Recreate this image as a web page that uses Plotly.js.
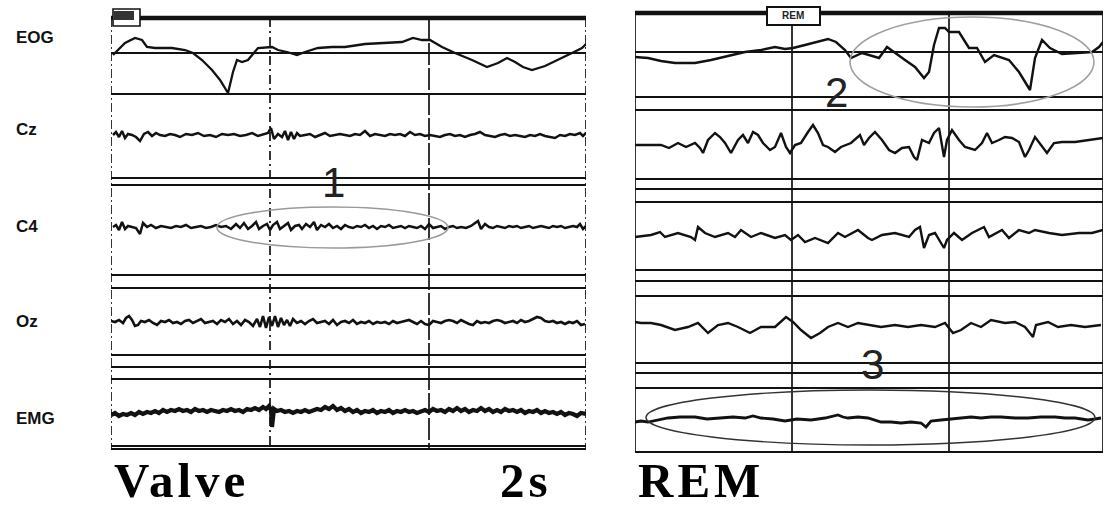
<!DOCTYPE html>
<html>
<head>
<meta charset="utf-8">
<script src="https://cdn.plot.ly/plotly-3.0.1.min.js"></script>
<style>html,body{margin:0;padding:0;background:#fff;}#chart{width:1109px;height:510px;}</style>
</head>
<body>
<div id="chart"></div>
<script>
// ---- DATA (x = sample index at ~79 Hz, value = deflection, arbitrary units, up = positive) ----
const channels = ["EOG", "Cz", "C4", "Oz", "EMG"];
const panelTitles = ["Valve", "REM"];
const scaleLabel = "2s";
const markers = ["1", "2", "3"];

// Valve panel
const valveEOG = [[2,-2],[7,3],[14,10],[24,15],[31,13],[36,6],[44,5],[61,5],[74,3],[82,0],[91,-7],[101,-17],[109,-27],[117,-40],[122,-19],[126,-7],[131,-9],[137,-7],[141,-2],[147,5],[161,6],[167,3],[176,1],[186,-2],[194,1],[207,5],[221,6],[234,6],[254,9],[274,10],[291,11],[302,15],[311,13],[319,13],[331,6],[344,0],[361,-7],[376,-14],[387,-10],[396,-5],[404,-9],[412,-14],[421,-17],[434,-13],[447,-7],[461,0],[471,5],[475,9]];
const valveCz = [[2,0],[5,3],[8,-2],[11,4],[14,-3],[17,1],[21,0],[25,-2],[29,-6],[33,1],[37,3],[41,-1],[45,2],[49,0],[54,-1],[59,1],[64,0],[69,-2],[75,1],[81,0],[87,2],[93,-1],[99,0],[105,-2],[111,1],[117,0],[123,1],[129,-1],[135,0],[141,2],[147,-1],[153,1],[157,2],[160,7],[163,-4],[167,1],[171,-2],[174,4],[177,-5],[180,3],[183,-4],[186,2],[189,-1],[194,0],[199,1],[204,-2],[209,0],[214,2],[219,-1],[224,0],[229,1],[234,0],[239,-1],[244,1],[249,0],[254,4],[259,-1],[264,1],[269,0],[274,-1],[279,1],[284,0],[289,1],[294,-1],[299,3],[304,0],[309,1],[314,-1],[319,0],[324,-1],[329,-2],[334,0],[339,1],[344,-1],[349,0],[354,-2],[359,0],[364,1],[369,3],[374,0],[379,-1],[384,-2],[389,0],[394,1],[399,-1],[404,0],[409,-1],[414,-2],[419,0],[424,-1],[429,1],[434,-1],[439,-2],[444,-3],[449,0],[454,-1],[459,1],[464,0],[469,2],[472,-1],[475,2]];
const valveC4 = [[2,0],[5,2],[8,-3],[11,5],[14,-2],[17,1],[21,0],[25,-1],[29,-7],[32,4],[36,0],[40,2],[45,-1],[50,1],[55,0],[60,-1],[65,1],[70,0],[75,2],[80,-1],[85,0],[90,1],[95,-1],[100,0],[105,2],[110,0],[115,1],[120,-2],[125,3],[129,-1],[133,4],[137,-2],[141,1],[145,5],[148,-2],[152,1],[156,3],[159,-3],[162,2],[166,5],[169,-2],[173,1],[177,4],[180,-3],[184,1],[188,2],[191,-2],[195,3],[199,0],[203,5],[206,-3],[210,2],[214,0],[218,3],[222,-1],[226,1],[230,-2],[234,2],[238,0],[242,-1],[246,1],[250,0],[254,2],[258,-1],[262,1],[266,-2],[270,1],[274,0],[278,2],[282,-1],[286,0],[290,1],[294,-1],[298,1],[302,0],[306,-1],[310,1],[314,-2],[318,3],[322,-1],[326,0],[330,1],[334,-2],[338,0],[342,1],[346,-1],[350,0],[355,-1],[360,1],[364,4],[367,6],[370,-2],[374,3],[378,0],[382,-1],[386,1],[390,0],[394,-1],[398,1],[402,0],[406,1],[410,-1],[414,0],[418,1],[422,-1],[426,0],[430,1],[434,0],[438,-1],[442,1],[446,0],[450,1],[454,-1],[458,0],[462,1],[466,0],[469,3],[472,-2],[475,1]];
const valveOz = [[0,1],[4,0],[8,2],[12,-1],[15,4],[18,6],[21,2],[24,-4],[27,-3],[30,1],[34,0],[38,2],[42,-1],[46,-3],[50,1],[54,0],[58,2],[62,-1],[66,0],[70,-2],[74,1],[78,2],[82,-1],[86,1],[90,3],[94,-1],[98,0],[102,1],[106,-2],[110,2],[114,0],[118,3],[122,-2],[126,1],[130,-3],[134,2],[138,0],[142,-4],[146,3],[149,-5],[152,6],[155,-6],[158,5],[161,-4],[164,6],[167,-5],[170,4],[173,-3],[176,2],[179,-4],[182,3],[186,-1],[190,1],[194,-2],[198,1],[202,3],[206,-1],[210,0],[214,1],[218,-2],[222,2],[226,-3],[230,0],[234,1],[238,-1],[242,2],[246,-2],[250,0],[254,-1],[258,1],[262,-2],[266,0],[270,-1],[274,0],[278,-2],[282,1],[286,-1],[290,0],[294,1],[298,2],[302,0],[306,-2],[310,1],[314,-2],[318,-3],[322,1],[326,0],[330,-1],[334,1],[338,2],[342,1],[346,-1],[350,2],[354,0],[358,-2],[362,-3],[366,1],[370,-1],[374,0],[378,-1],[382,1],[386,2],[390,1],[394,-1],[398,0],[402,1],[406,-1],[410,2],[414,0],[418,1],[422,3],[426,5],[430,4],[434,1],[438,0],[442,1],[446,-1],[450,0],[454,-2],[458,0],[462,-1],[466,1],[470,-3],[474,-2]];
const valveEMG = [[0,-3],[4,-1],[8,-4],[12,-2],[16,-3],[20,-1],[24,-3],[28,0],[32,-2],[36,0],[40,-1],[44,1],[48,-1],[52,2],[56,0],[60,2],[64,1],[68,3],[72,1],[76,2],[80,0],[84,3],[88,1],[92,2],[96,0],[100,2],[104,1],[108,0],[112,2],[116,1],[120,3],[124,1],[128,2],[132,0],[136,3],[140,2],[144,4],[148,2],[152,5],[155,3],[158,6],[160,2],[161,-15],[163,3],[166,1],[170,2],[174,0],[178,1],[182,-1],[186,1],[190,0],[194,2],[198,0],[202,1],[206,3],[210,2],[214,5],[218,3],[222,6],[226,2],[230,4],[234,1],[238,3],[242,0],[246,2],[250,-1],[254,1],[258,0],[262,2],[266,-1],[270,1],[274,0],[278,2],[282,-1],[286,1],[290,0],[294,2],[298,0],[302,1],[306,-1],[310,1],[314,2],[318,0],[322,3],[326,1],[330,2],[334,0],[338,3],[342,1],[346,4],[350,1],[354,3],[358,0],[362,2],[366,1],[370,4],[374,1],[378,3],[382,0],[386,2],[390,0],[394,3],[398,1],[402,2],[406,0],[410,2],[414,-1],[418,1],[422,0],[426,2],[430,-1],[434,1],[438,-1],[442,0],[446,-2],[450,0],[454,-3],[458,-1],[462,-2],[466,-4],[470,-1],[475,-2]];

// REM panel
const remEOG = [[0,-5],[13,-6],[26,-9],[40,-11],[60,-11],[76,-8],[93,-4],[110,0],[126,2],[140,5],[150,3],[158,4],[170,7],[183,10],[193,13],[201,10],[210,2],[216,-6],[223,-3],[227,-1],[234,-3],[244,-6],[252,5],[260,-1],[270,-8],[280,-15],[289,-26],[294,-20],[299,7],[304,24],[310,24],[314,20],[324,20],[334,4],[342,4],[350,-10],[359,-3],[374,-8],[384,-20],[395,-38],[400,-6],[407,12],[415,4],[427,-2],[444,-1],[457,0],[464,5],[468,10]];
const remCz = [[0,0],[26,0],[34,-3],[43,2],[51,-2],[60,2],[65,-3],[68,-8],[73,5],[80,12],[85,8],[90,2],[96,-8],[103,5],[108,10],[113,2],[118,13],[123,10],[128,2],[135,-5],[140,-2],[146,12],[151,-2],[155,-8],[160,0],[166,2],[173,13],[178,20],[183,12],[188,0],[193,-2],[200,-7],[206,-2],[216,2],[225,10],[229,0],[234,7],[240,13],[247,5],[254,-5],[260,-8],[267,-3],[274,-2],[279,-12],[282,-15],[287,5],[294,2],[299,12],[304,17],[309,-12],[312,5],[317,15],[324,5],[330,-2],[340,-5],[347,2],[352,12],[357,2],[364,5],[370,8],[377,7],[384,3],[390,-12],[394,-5],[400,8],[407,-2],[412,-8],[419,2],[427,3],[440,3],[454,5],[468,7]];
const remC4 = [[0,-2],[16,0],[25,3],[30,-2],[43,2],[56,-2],[60,-5],[63,8],[70,2],[80,-2],[93,2],[100,-2],[106,5],[116,-2],[126,2],[140,-3],[150,0],[156,-5],[163,0],[170,-7],[180,-3],[193,-8],[203,2],[210,-2],[223,5],[233,-3],[237,-5],[247,0],[260,2],[274,-2],[280,5],[285,8],[289,-13],[294,0],[300,2],[309,-13],[312,-5],[319,2],[327,-5],[337,2],[349,8],[354,-2],[367,5],[374,-3],[384,5],[394,2],[400,5],[414,2],[427,0],[444,2],[457,2],[468,5]];
const remOz = [[0,3],[6,2],[16,2],[26,0],[40,-5],[53,-2],[63,2],[73,-8],[83,0],[93,2],[103,-2],[115,-8],[126,-2],[140,-2],[151,8],[158,3],[166,-5],[176,-13],[185,-8],[193,-2],[203,2],[213,-2],[223,2],[233,0],[246,-2],[260,0],[273,-2],[286,0],[300,-2],[310,2],[318,-8],[326,-5],[336,2],[346,-2],[356,5],[370,2],[380,3],[390,-2],[398,-12],[401,0],[413,3],[423,-2],[436,0],[450,-2],[466,0]];
const remEMG = [[0,-4],[6,-3],[13,-4],[22,-2],[33,0],[45,1],[60,1],[72,-1],[86,0],[98,1],[110,0],[118,2],[126,0],[138,-1],[150,-3],[162,-1],[176,-2],[190,0],[203,3],[208,1],[213,0],[223,1],[233,0],[240,-2],[246,-4],[256,-4],[266,-5],[276,-4],[286,-5],[291,-9],[296,-3],[306,-2],[316,-1],[326,0],[336,1],[346,0],[356,1],[366,1],[380,0],[393,0],[406,1],[420,1],[430,0],[440,0],[448,-1],[453,-2],[460,-1],[466,0]];

// ---- LAYOUT CONFIG (positions / styles) ----
const H = 510;
const panels = [
  {xa: "x",  n: 475, top: 18, bottom: 449,
   base: [53, 135, 227, 322, 412],
   hlines: [53, 94, 178, 185, 275, 288, 355, 367, 379, 446, 449],
   vlines: [0, 159, 318, 475], vdash: ["9px,3px,2px,3px", "9px,4px,2px,4px", "22px,3px", "9px,3px,2px,3px"],
   series: [valveEOG, valveCz, valveC4, valveOz, valveEMG], widths: [2.3, 2.5, 2.5, 2.6, 4.2]},
  {xa: "x2", n: 468, top: 13, bottom: 452,
   base: [52, 145, 235, 325, 418],
   hlines: [52, 97, 110, 179, 189, 202, 270, 281, 296, 363, 373, 388, 452],
   vlines: [0, 157, 314, 468], vdash: ["solid", "solid", "solid", "solid"],
   series: [remEOG, remCz, remC4, remOz, remEMG], widths: [2.4, 2.4, 2.4, 2.4, 2.8]}
];
const ink = "#121212";
const Y = py => H - py;

const traces = [];
const shapes = [];
const annotations = [];

panels.forEach((p, pi) => {
  const yref = "y";
  p.hlines.forEach(hy => shapes.push({type: "line", xref: p.xa, yref, x0: 0, x1: p.n, y0: Y(hy), y1: Y(hy), line: {color: ink, width: 2}, layer: "below"}));
  shapes.push({type: "line", xref: p.xa, yref, x0: 0, x1: p.n, y0: Y(p.top), y1: Y(p.top), line: {color: ink, width: 4.5}});
  p.vlines.forEach((vx, i) => shapes.push({type: "line", xref: p.xa, yref, x0: vx, x1: vx, y0: Y(p.top), y1: Y(p.bottom), line: {color: ink, width: 1.7, dash: p.vdash[i]}, layer: "below"}));
  p.series.forEach((s, ci) => {
    traces.push({
      type: "scatter", mode: "lines", xaxis: p.xa, yaxis: "y",
      x: s.map(d => d[0]), y: s.map(d => Y(p.base[ci]) + d[1]),
      line: {color: ink, width: p.widths[ci], shape: "linear"},
      hoverinfo: "skip", showlegend: false, name: panelTitles[pi] + " " + channels[ci]
    });
  });
});

// channel labels (left margin)
const labelY = [38, 129, 226, 321, 418];
channels.forEach((c, i) => annotations.push({
  text: "<b>" + c + "</b>", xref: "paper", yref: "paper", x: 14 / 1109, y: 1 - labelY[i] / H,
  xanchor: "left", yanchor: "middle", showarrow: false,
  font: {family: "Liberation Sans, Arial, sans-serif", size: 17, color: "#111"}
}));

// tabs at top
shapes.push({type: "rect", xref: "paper", yref: "paper", x0: 113 / 1109, x1: 140 / 1109, y0: 1 - 26 / H, y1: 1 - 9 / H, line: {color: ink, width: 1.6}, fillcolor: "#fff"});
shapes.push({type: "rect", xref: "paper", yref: "paper", x0: 114 / 1109, x1: 134 / 1109, y0: 1 - 20 / H, y1: 1 - 11 / H, line: {width: 0}, fillcolor: "#333"});
shapes.push({type: "rect", xref: "paper", yref: "paper", x0: 767 / 1109, x1: 820 / 1109, y0: 1 - 25 / H, y1: 1 - 7 / H, line: {color: ink, width: 2}, fillcolor: "#fff"});
annotations.push({text: "<b>REM</b>", xref: "paper", yref: "paper", x: 793 / 1109, y: 1 - 15 / H, xanchor: "center", yanchor: "middle", showarrow: false, font: {family: "Liberation Sans, Arial", size: 10, color: "#222"}});

// ellipses
shapes.push({type: "circle", xref: "x", yref: "y", x0: 106, x1: 337, y0: Y(248), y1: Y(207), line: {color: "#9a9a9a", width: 1.6}});
shapes.push({type: "circle", xref: "x2", yref: "y", x0: 215, x1: 459, y0: Y(107), y1: Y(17), line: {color: "#a0a0a0", width: 1.6}});
shapes.push({type: "circle", xref: "x2", yref: "y", x0: 11, x1: 460, y0: Y(445), y1: Y(390), line: {color: "#333", width: 1.4}});

// marker digits
const digitPos = [["x", 222, 182], ["x2", 201, 92], ["x2", 237, 364]];
markers.forEach((m, i) => annotations.push({
  text: m, xref: digitPos[i][0], yref: "y", x: digitPos[i][1], y: Y(digitPos[i][2]),
  xanchor: "center", yanchor: "middle", showarrow: false,
  font: {family: "Liberation Sans, Arial", size: 42, color: "#222"}
}));

// bottom titles (centres)
const bottom = [[panelTitles[0], 181], [scaleLabel, 526], [panelTitles[1], 701]];
bottom.forEach(b => annotations.push({
  text: "<b>" + b[0] + "</b>", xref: "paper", yref: "paper", x: b[1] / 1109, y: 0,
  xanchor: "center", yanchor: "bottom", showarrow: false,
  font: {family: "Liberation Serif, Times New Roman, serif", size: 49, color: "#000"}
}));

const layout = {
  width: 1109, height: 510, margin: {l: 0, r: 0, t: 0, b: 0},
  paper_bgcolor: "#fff", plot_bgcolor: "#fff", showlegend: false,
  xaxis: {domain: [111 / 1109, 586 / 1109], range: [0, 475], visible: false, fixedrange: true},
  xaxis2: {domain: [635 / 1109, 1103 / 1109], range: [0, 468], visible: false, fixedrange: true},
  yaxis: {domain: [0, 1], range: [0, H], visible: false, fixedrange: true},
  shapes, annotations
};
Plotly.newPlot("chart", traces, layout, {displayModeBar: false, staticPlot: true}).then(() => {
  document.querySelectorAll("text.annotation-text").forEach(t => {
    const fs = parseFloat(t.style.fontSize || "0");
    if (fs >= 45) t.style.letterSpacing = "4px";
  });
});
</script>
</body>
</html>
